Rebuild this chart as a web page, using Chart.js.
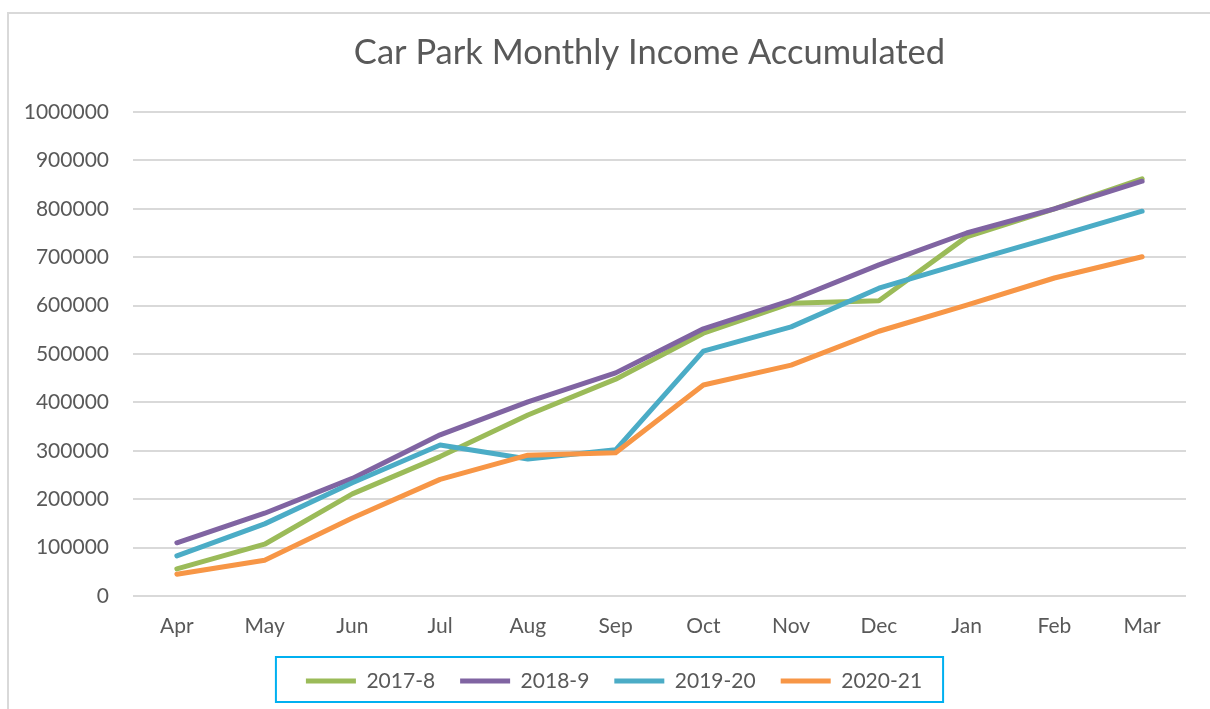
<!DOCTYPE html>
<html>
<head>
<meta charset="utf-8">
<title>Car Park Monthly Income Accumulated</title>
<script src="https://cdn.jsdelivr.net/npm/chart.js@4/dist/chart.umd.min.js"></script>
<style>
  body { margin: 0; background: #ffffff; }
  #graphicFirst { display: block; }
</style>
</head>
<body>
<canvas id="graphicFirst" width="1210" height="709"></canvas>
<script>
//-----Variables
const months = ['Apr','May','Jun','Jul','Aug','Sep','Oct','Nov','Dec','Jan','Feb','Mar'];
const seriesNames = ['2017-8','2018-9','2019-20','2020-21'];

const income2017 = [56000, 107000, 211000, 288000, 374000, 448000, 543000, 605000, 610000, 742000, 800000, 862000];
const income2018 = [110000, 171000, 243000, 333000, 401000, 461000, 552000, 611000, 684000, 750000, 800000, 857000];
const income2019 = [83000, 149000, 234000, 312000, 283000, 302000, 506000, 556000, 636000, 690000, 742000, 795000];
const income2020 = [45000, 74000, 161000, 241000, 291000, 296000, 436000, 477000, 547000, 601000, 657000, 701000];

const yTicks = [0, 100000, 200000, 300000, 400000, 500000, 600000, 700000, 800000, 900000, 1000000];

const lineColors = ['#9bbb59', '#8064a2', '#4bacc6', '#f79646'];
const textColor = '#595959';
const gridColor = '#d9d9d9';

function makeSet(i, values){
  return {
    label: seriesNames[i],
    data: values,
    borderColor: lineColors[i],
    backgroundColor: lineColors[i],
    borderWidth: 5,
    borderCapStyle: 'round',
    borderJoinStyle: 'round',
    pointRadius: 0,
    pointHoverRadius: 0,
    pointStyle: 'line',
    fill: false,
    tension: 0,
    order: 3 - i,
  };
}

var data1 = {
  labels: months,
  datasets: [
    makeSet(0, income2017),
    makeSet(1, income2018),
    makeSet(2, income2019),
    makeSet(3, income2020),
  ]
};

//----STYLE (outer frame, legend box, title/legend centring)
const framePlugin = {
  id: 'framePlugin',
  afterLayout(chart){
    // title centred a little left of the plot, legend a little right of the canvas centre
    if (chart.titleBlock) {
      chart.titleBlock.left -= 10;
      chart.titleBlock.right -= 10;
    }
    if (chart.legend) {
      chart.legend.left += 21;
      chart.legend.right += 21;
    }
  },
  beforeDraw(chart){
    const ctx = chart.ctx;
    ctx.save();
    ctx.strokeStyle = gridColor;
    ctx.lineWidth = 2;
    ctx.beginPath();
    ctx.moveTo(8, chart.height);
    ctx.lineTo(8, 13);
    ctx.lineTo(chart.width, 13);
    ctx.stroke();
    ctx.restore();
  },
  afterDraw(chart){
    const lg = chart.legend;
    if (!lg || !lg.legendHitBoxes || !lg.legendHitBoxes.length) return;
    const boxes = lg.legendHitBoxes;
    const first = boxes[0];
    const last = boxes[boxes.length - 1];
    const cy = first.top + first.height / 2;
    const ctx = chart.ctx;
    ctx.save();
    ctx.strokeStyle = '#00b0f0';
    ctx.lineWidth = 2;
    ctx.strokeRect(first.left - 30, cy - 24, (last.left + last.width) - first.left + 51, 45);
    ctx.restore();
  }
};

var setOptions1 = {
  responsive: false,
  animation: false,
  layout: {
    padding: { left: 0, right: 24, top: 0, bottom: 7.5 }
  },
  plugins: {
    legend: {
      display: true,
      position: 'bottom',
      labels: {
        usePointStyle: true,
        pointStyleWidth: 50,
        padding: 25,
        color: textColor,
        font: { family: 'Lato', size: 21 },
        sort: (a, b) => a.datasetIndex - b.datasetIndex,
      }
    },
    title: {
      display: true,
      fullSize: false,
      text: 'Car Park Monthly Income Accumulated',
      color: textColor,
      font: { family: 'Lato', size: 34.5, weight: 'normal' },
      padding: { top: 32, bottom: 38.6 }
    },
    tooltip: { enabled: false }
  },
  scales: {
    x: {
      offset: true,
      grid: { display: false, drawTicks: false },
      border: { display: false },
      ticks: {
        color: textColor,
        font: { family: 'Lato', size: 21 },
        padding: 18,
      },
      afterFit: function(scale){ scale.height = 49.5; }
    },
    y: {
      min: 0,
      max: 1000000,
      grid: { color: gridColor, lineWidth: 2, drawTicks: false },
      border: { display: false },
      afterBuildTicks: function(scale){
        scale.ticks = yTicks.map(v => ({ value: v }));
      },
      ticks: {
        color: textColor,
        font: { family: 'Lato', size: 21 },
        padding: 24,
        callback: v => String(v),
      },
      afterFit: function(scale){ scale.width = 133; }
    }
  }
};

//-----GRAPICH
let chart1;
function drawGraphicFirst(data, setOptions){
  var ctx = document.getElementById('graphicFirst').getContext('2d');
  if (chart1) {
    chart1.destroy();
  }
  chart1 = new Chart(ctx, {
    type: 'line',
    data: data,
    options: setOptions,
    plugins: [framePlugin],
  });
}

drawGraphicFirst(data1, setOptions1);
</script>
</body>
</html>
